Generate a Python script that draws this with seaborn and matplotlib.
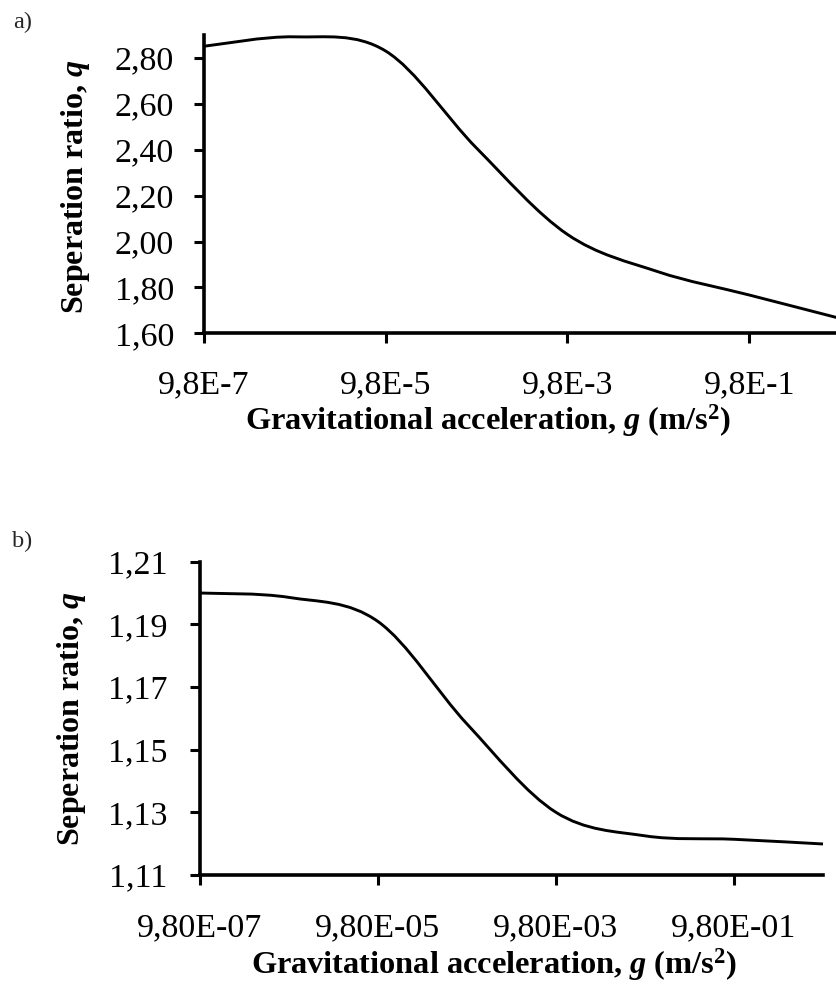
import numpy as np
import matplotlib
matplotlib.use("Agg")
import matplotlib.pyplot as plt
from matplotlib.path import Path
from matplotlib.patches import PathPatch
import seaborn as sns

# data (Excel smoothed lines, log x axis)
g_values = [9.8e-7, 9.8e-6, 9.8e-5, 9.8e-4, 9.8e-3, 9.8e-2, 9.8e-1, 9.8]
q_a = [2.851, 2.892, 2.830, 2.407, 2.031, 1.868, 1.767, 1.665]
q_b = [1.2000, 1.1986, 1.1909, 1.1582, 1.1300, 1.1225, 1.1214, 1.1199]

xticks = [9.8e-7, 9.8e-5, 9.8e-3, 9.8e-1]
xticklabels_a = ["9,8E-7", "9,8E-5", "9,8E-3", "9,8E-1"]
xticklabels_b = ["9,80E-07", "9,80E-05", "9,80E-03", "9,80E-01"]
yticks_a = [1.60, 1.80, 2.00, 2.20, 2.40, 2.60, 2.80]
yticklabels_a = ["1,60", "1,80", "2,00", "2,20", "2,40", "2,60", "2,80"]
yticks_b = [1.11, 1.13, 1.15, 1.17, 1.19, 1.21]
yticklabels_b = ["1,11", "1,13", "1,15", "1,17", "1,19", "1,21"]

ylabel = r"Seperation ratio, $\mathbfit{q}$"
xlabel = r"Gravitational acceleration, $\mathbfit{g}$ (m/s$^{\mathbf{2}}$)"

sns.set_theme(style="ticks")
plt.rcParams['font.family'] = ['Liberation Serif', 'DejaVu Serif']
plt.rcParams['mathtext.fontset'] = 'custom'
plt.rcParams['mathtext.rm'] = 'Liberation Serif'
plt.rcParams['mathtext.it'] = 'Liberation Serif:italic'
plt.rcParams['mathtext.bf'] = 'Liberation Serif:bold'
plt.rcParams['mathtext.bfit'] = 'Liberation Serif:italic:bold'


def smooth_curve(ax, x, y, lw=2.1):
    # Excel-style smoothed line: cubic Bezier segments through the data points
    u = np.log10(np.asarray(x, dtype=float))
    v = np.asarray(y, dtype=float)
    P = np.column_stack([u, v])
    P = np.vstack([P[0], P, P[-1]])
    verts = [P[1]]
    codes = [Path.MOVETO]
    for i in range(1, len(P) - 2):
        c1 = P[i] + (P[i + 1] - P[i - 1]) / 6.0
        c2 = P[i + 1] - (P[i + 2] - P[i]) / 6.0
        verts += [c1, c2, P[i + 1]]
        codes += [Path.CURVE4] * 3
    verts = np.array(verts)
    verts[:, 0] = 10 ** verts[:, 0]
    patch = PathPatch(Path(verts, codes), fill=False, edgecolor="black",
                      linewidth=lw, transform=ax.transData, clip_on=False)
    ax.add_patch(patch)


def style_axis(ax, xtl, yt, ytl, ylim, xpad, ypad):
    ax.set_xscale("log")
    ax.set_xlim(g_values[0], g_values[-1])
    ax.set_ylim(*ylim)
    ax.set_xticks(xticks)
    ax.set_xticklabels(xtl)
    ax.xaxis.set_minor_locator(matplotlib.ticker.NullLocator())
    ax.set_yticks(yt)
    ax.set_yticklabels(ytl)
    sns.despine(ax=ax)
    for s in ["left", "bottom"]:
        ax.spines[s].set_linewidth(2.6)
        ax.spines[s].set_color("black")
    ax.tick_params(axis="both", which="major", direction="out", length=7.5,
                   width=2.2, color="black", labelsize=24.5, labelcolor="black")
    ax.tick_params(axis="x", pad=xpad)
    ax.tick_params(axis="y", pad=ypad)
    ax.set_xlabel(xlabel, fontsize=23.3, fontweight="bold", color="black")
    ax.set_ylabel(ylabel, fontsize=23, fontweight="bold", color="black")
    ax.patch.set_alpha(0)


fig = plt.figure(figsize=(8.36, 9.86), dpi=100)
ax_a = fig.add_axes([204 / 836, (986 - 333.3) / 986, 636 / 836, 298.3 / 986])
ax_b = fig.add_axes([200 / 836, (986 - 875) / 986, 623 / 836, 313.3 / 986])

smooth_curve(ax_a, g_values, q_a)
style_axis(ax_a, xticklabels_a, yticks_a, yticklabels_a, (1.60, 2.90), 19, 14)
ax_a.xaxis.set_label_coords(0.4465, -0.230)
ax_a.yaxis.set_label_coords(-0.176, 0.49)

smooth_curve(ax_b, g_values, q_b)
style_axis(ax_b, xticklabels_b, yticks_b, yticklabels_b, (1.11, 1.21), 20, 16)
ax_b.xaxis.set_label_coords(0.472, -0.227)
ax_b.yaxis.set_label_coords(-0.180, 0.50)

fig.text(13 / 836, 1 - 22 / 986, "a)", fontsize=17.5, ha="left", va="center")
fig.text(12 / 836, 1 - 541 / 986, "b)", fontsize=17.5, ha="left", va="center")

fig.savefig("out.png", dpi=100, facecolor="white")
